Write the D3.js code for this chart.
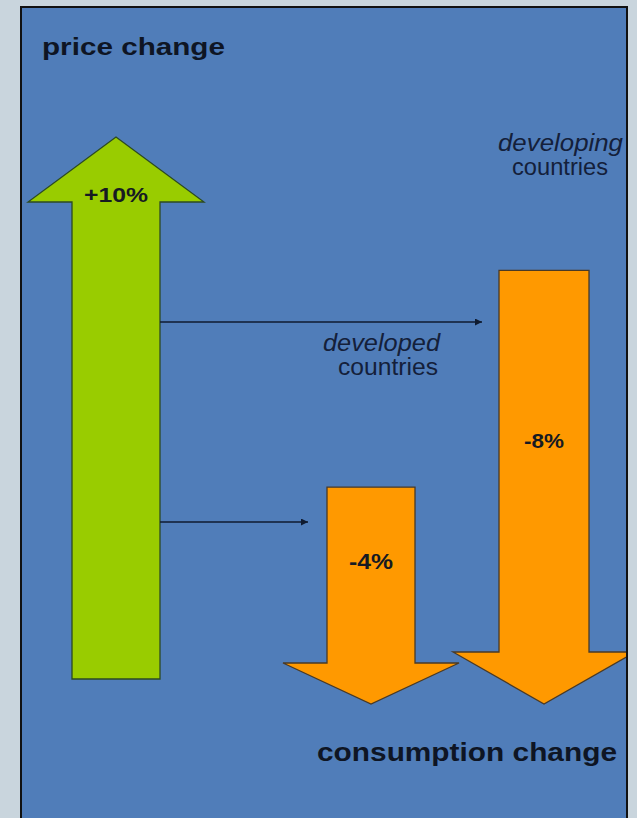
<!DOCTYPE html>
<html>
<head>
<meta charset="utf-8">
<script src="https://cdn.jsdelivr.net/npm/d3@7"></script>
<style>
  html, body { margin: 0; padding: 0; background: #c9d5dd; }
  svg { display: block; }
  text { font-family: "Liberation Sans", Arial, sans-serif; }
</style>
</head>
<body>
<script>
// Price and consumption changes (percent)
const groups = ["price", "developed", "developing"];
const values = [10, -4, -8];
const valueLabels = ["+10%", "-4%", "-8%"];
const groupLabels = [null, ["developed", "countries"], ["developing", "countries"]];
const titles = ["price change", "consumption change"];

const W = 637, H = 818;
const panel = { x: 21, y: 7, w: 606, h: 830 };

const svg = d3.select("body").append("svg")
  .attr("width", W).attr("height", H);

const defs = svg.append("defs");
defs.append("clipPath").attr("id", "panel-clip")
  .append("rect")
  .attr("x", panel.x).attr("y", panel.y)
  .attr("width", panel.w - 1).attr("height", panel.h);

defs.append("marker")
  .attr("id", "tip")
  .attr("viewBox", "0 0 10 10")
  .attr("refX", 10).attr("refY", 5)
  .attr("markerWidth", 8).attr("markerHeight", 7)
  .attr("markerUnits", "userSpaceOnUse")
  .attr("orient", "auto")
  .append("path")
  .attr("d", "M0,0 L10,5 L0,10 Z")
  .attr("fill", "#0f1b30");

// Panel
svg.append("rect")
  .attr("x", panel.x).attr("y", panel.y)
  .attr("width", panel.w).attr("height", panel.h)
  .attr("fill", "#507db9")
  .attr("stroke", "#111")
  .attr("stroke-width", 2);

const g = svg.append("g").attr("clip-path", "url(#panel-clip)");

// Arrow length is proportional to the size of the change
const len = d3.scaleLinear().domain([0, 10]).range([0, 542]);

// Layout for each arrow: shaft centre, shaft half-width, head half-width, head height, anchor
const layout = [
  { cx: 116, shaft: 44, head: 88, headH: 65, base: 679 },  // up arrow, anchored at its base
  { cx: 371, shaft: 44, head: 88, headH: 41, tip: 704 },   // down arrows, anchored at their tips
  { cx: 544, shaft: 45, head: 91, headH: 52, tip: 704 }
];

function arrowPath(v, L) {
  const l = len(Math.abs(v));
  const p = d3.path();
  if (v > 0) {
    const top = L.base - l, hb = top + L.headH;
    p.moveTo(L.cx - L.shaft, L.base);
    p.lineTo(L.cx - L.shaft, hb);
    p.lineTo(L.cx - L.head, hb);
    p.lineTo(L.cx, top);
    p.lineTo(L.cx + L.head, hb);
    p.lineTo(L.cx + L.shaft, hb);
    p.lineTo(L.cx + L.shaft, L.base);
  } else {
    const top = L.tip - l, hb = L.tip - L.headH;
    p.moveTo(L.cx - L.shaft, top);
    p.lineTo(L.cx - L.shaft, hb);
    p.lineTo(L.cx - L.head, hb);
    p.lineTo(L.cx, L.tip);
    p.lineTo(L.cx + L.head, hb);
    p.lineTo(L.cx + L.shaft, hb);
    p.lineTo(L.cx + L.shaft, top);
  }
  p.closePath();
  return p.toString();
}

const fills = ["#99cc00", "#ff9900", "#ff9900"];
const strokes = ["#2c4a22", "#4a3a26", "#4a3a26"];

g.selectAll("path.arrow")
  .data(groups)
  .join("path")
  .attr("class", "arrow")
  .attr("d", (d, i) => arrowPath(values[i], layout[i]))
  .attr("fill", (d, i) => fills[i])
  .attr("stroke", (d, i) => strokes[i])
  .attr("stroke-width", 1.3)
  .attr("stroke-linejoin", "miter");

// Value labels inside the arrows
const labelPos = [
  { y: 202, w: 64, size: 21 },
  { y: 569, w: 44, size: 22 },
  { y: 448, w: 40, size: 21 }
];
g.selectAll("text.value")
  .data(groups)
  .join("text")
  .attr("class", "value")
  .attr("x", (d, i) => layout[i].cx - labelPos[i].w / 2)
  .attr("y", (d, i) => labelPos[i].y)
  .attr("font-size", (d, i) => labelPos[i].size)
  .attr("font-weight", "bold")
  .attr("fill", "#161a22")
  .attr("textLength", (d, i) => labelPos[i].w)
  .attr("lengthAdjust", "spacingAndGlyphs")
  .text((d, i) => valueLabels[i]);

// Connectors from the price arrow to each consumption arrow
const connectors = [
  { y: 322, x1: 160, x2: 482 },
  { y: 522, x1: 160, x2: 308 }
];
g.selectAll("line.link")
  .data(connectors)
  .join("line")
  .attr("class", "link")
  .attr("x1", d => d.x1).attr("x2", d => d.x2)
  .attr("y1", d => d.y).attr("y2", d => d.y)
  .attr("stroke", "#0f1b30")
  .attr("stroke-width", 1.3)
  .attr("marker-end", "url(#tip)");

// Country group labels
const groupText = [
  null,
  [{ x: 323, y: 351, w: 117 }, { x: 338, y: 375, w: 100 }],
  [{ x: 498, y: 151, w: 125 }, { x: 512, y: 175, w: 96 }]
];
groups.forEach((grp, i) => {
  if (!groupLabels[i]) return;
  groupLabels[i].forEach((line, j) => {
    const p = groupText[i][j];
    g.append("text")
      .attr("x", p.x).attr("y", p.y)
      .attr("font-size", 23)
      .attr("font-style", j === 0 ? "italic" : "normal")
      .attr("fill", "#14203a")
      .attr("textLength", p.w)
      .attr("lengthAdjust", "spacingAndGlyphs")
      .text(line);
  });
});

// Axis titles
const titlePos = [
  { x: 42, y: 55, w: 183, size: 24 },
  { x: 317, y: 761, w: 300, size: 26 }
];
g.selectAll("text.title")
  .data(titles)
  .join("text")
  .attr("class", "title")
  .attr("x", (d, i) => titlePos[i].x)
  .attr("y", (d, i) => titlePos[i].y)
  .attr("font-size", (d, i) => titlePos[i].size)
  .attr("font-weight", "bold")
  .attr("fill", "#0e1524")
  .attr("textLength", (d, i) => titlePos[i].w)
  .attr("lengthAdjust", "spacingAndGlyphs")
  .text(d => d);
</script>
</body>
</html>
